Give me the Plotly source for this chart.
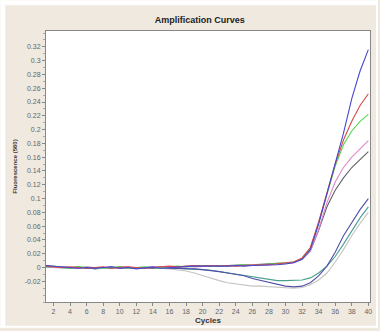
import plotly.graph_objects as go

cycles = list(range(1, 41))

blue = [0.003, 0.002, 0.001, 0.000, -0.001, 0.000, -0.001, 0.000, 0.001, -0.001,
        0.000, -0.002, 0.000, 0.001, -0.001, 0.000, 0.001, 0.001, 0.002, 0.002,
        0.002, 0.001, 0.002, 0.003, 0.002, 0.003, 0.003, 0.004, 0.004, 0.005,
        0.007, 0.012, 0.026, 0.063, 0.106, 0.150, 0.195, 0.245, 0.285, 0.316]
red = [0.002, 0.001, 0.000, 0.001, 0.000, -0.001, 0.000, 0.001, -0.001, 0.000,
       0.001, 0.000, -0.001, 0.000, 0.001, 0.002, 0.001, 0.002, 0.003, 0.002,
       0.003, 0.002, 0.003, 0.002, 0.003, 0.003, 0.004, 0.004, 0.005, 0.006,
       0.008, 0.014, 0.029, 0.066, 0.108, 0.150, 0.185, 0.212, 0.235, 0.252]
green = [0.001, 0.002, 0.000, -0.001, 0.001, 0.000, 0.000, -0.001, 0.000, 0.001,
         -0.001, 0.000, 0.001, 0.000, -0.001, 0.001, 0.002, 0.001, 0.002, 0.003,
         0.002, 0.003, 0.002, 0.003, 0.004, 0.003, 0.004, 0.005, 0.005, 0.006,
         0.008, 0.013, 0.027, 0.064, 0.105, 0.147, 0.178, 0.198, 0.212, 0.222]
pink = [0.002, 0.000, 0.001, 0.000, -0.001, 0.001, 0.000, -0.001, 0.000, 0.000,
        0.001, -0.001, 0.000, 0.001, 0.000, 0.001, 0.000, 0.002, 0.001, 0.002,
        0.002, 0.003, 0.002, 0.003, 0.003, 0.004, 0.003, 0.004, 0.005, 0.005,
        0.007, 0.012, 0.024, 0.055, 0.094, 0.124, 0.145, 0.160, 0.172, 0.184]
dgray = [0.003, 0.001, 0.000, 0.000, 0.001, -0.001, 0.000, 0.000, -0.001, 0.001,
         0.000, 0.000, -0.001, 0.000, 0.001, 0.000, 0.001, 0.002, 0.002, 0.003,
         0.003, 0.002, 0.003, 0.004, 0.004, 0.004, 0.005, 0.005, 0.006, 0.006,
         0.008, 0.012, 0.024, 0.054, 0.088, 0.112, 0.130, 0.145, 0.157, 0.168]
navy = [0.002, 0.001, 0.000, -0.001, 0.000, 0.000, -0.002, 0.000, 0.001, -0.001,
        0.000, -0.001, 0.000, -0.001, 0.000, -0.001, -0.001, -0.001, -0.002, -0.003,
        -0.004, -0.006, -0.008, -0.010, -0.012, -0.016, -0.019, -0.022, -0.025, -0.027,
        -0.028, -0.027, -0.022, -0.012, 0.002, 0.022, 0.046, 0.066, 0.084, 0.100]
teal = [0.001, 0.000, 0.001, 0.000, -0.001, 0.000, 0.000, -0.001, 0.000, 0.000,
        -0.001, 0.000, -0.001, 0.000, -0.001, 0.000, -0.001, -0.002, -0.002, -0.003,
        -0.004, -0.006, -0.008, -0.010, -0.012, -0.014, -0.016, -0.018, -0.019, -0.019,
        -0.019, -0.018, -0.015, -0.008, 0.002, 0.016, 0.034, 0.054, 0.072, 0.088]
lgray = [0.001, 0.000, -0.001, 0.000, 0.000, -0.001, 0.000, 0.000, -0.001, 0.000,
         0.000, -0.001, 0.000, -0.001, -0.001, -0.002, -0.003, -0.005, -0.008, -0.012,
         -0.016, -0.019, -0.022, -0.024, -0.026, -0.027, -0.027, -0.028, -0.029, -0.030,
         -0.030, -0.029, -0.025, -0.018, -0.008, 0.008, 0.026, 0.046, 0.064, 0.080]

series = [
    ("lgray", lgray, "#c4c4c0"),
    ("teal", teal, "#48a090"),
    ("navy", navy, "#5050a8"),
    ("dgray", dgray, "#606068"),
    ("pink", pink, "#e088c8"),
    ("green", green, "#50d850"),
    ("red", red, "#d84848"),
    ("blue", blue, "#4848d0"),
]

y_ticks = [-0.02, 0, 0.02, 0.04, 0.06, 0.08, 0.1, 0.12, 0.14, 0.16, 0.18, 0.2,
           0.22, 0.24, 0.26, 0.28, 0.3, 0.32]
y_labels = ["-0.02", "0", "0.02", "0.04", "0.06", "0.08", "0.1", "0.12", "0.14",
            "0.16", "0.18", "0.2", "0.22", "0.24", "0.26", "0.28", "0.3", "0.32"]
x_ticks = list(range(2, 41, 2))

W, H = 380, 331
L, R, T, B = 46, 8, 31, 26
pw, ph = W - L - R, H - T - B


def px_x(p):
    return (p - L) / pw


def px_y(p):
    return (H - B - p) / ph


fig = go.Figure()
for name, vals, col in series:
    fig.add_trace(go.Scatter(x=cycles, y=vals, mode="lines", name=name,
                             line=dict(color=col, width=1.1), showlegend=False))

# thin white border around the beige panel
white_strips = [(0, 0, W, 5), (0, 0, 5, H), (W - 2, 0, W, H), (0, H - 2, W, H)]
shapes = []
for x0, y0, x1, y1 in white_strips:
    shapes.append(dict(type="rect", xref="paper", yref="paper",
                       x0=px_x(x0), x1=px_x(x1), y0=px_y(y1), y1=px_y(y0),
                       fillcolor="#ffffff", line=dict(width=0), layer="above"))

fig.update_layout(
    width=W, height=H,
    margin=dict(l=L, r=R, t=T, b=B),
    paper_bgcolor="#efe9df",
    plot_bgcolor="#ffffff",
    shapes=shapes,
    title=dict(text="<b>Amplification Curves</b>", x=0.526, xanchor="center",
               y=1 - 20 / H, yanchor="middle",
               font=dict(family="Liberation Sans, Arial", size=9, color="#222")),
    font=dict(family="Liberation Sans, Arial", size=7, color="#666"),
)
fig.update_xaxes(
    range=[1.1, 40.2], tickvals=x_ticks, ticks="outside", ticklen=3,
    tickcolor="#888", showgrid=False, zeroline=False,
    showline=True, linecolor="#888", linewidth=1, mirror=True,
    tickfont=dict(size=7, color="#666"),
    title=dict(text="<b>Cycles</b>", standoff=2,
               font=dict(size=8, color="#333")),
)
fig.update_yaxes(
    range=[-0.05, 0.343], tickvals=y_ticks, ticktext=y_labels,
    ticks="outside", ticklen=3, tickcolor="#888", showgrid=False,
    zeroline=False, showline=True, linecolor="#888", linewidth=1, mirror=True,
    tickfont=dict(size=7, color="#666"),
    minor=dict(ticks="outside", ticklen=2, tickcolor="#aaa", dtick=0.01),
    title=dict(text="<b>Fluorescence (560)</b>", standoff=6,
               font=dict(size=6, color="#333")),
)

fig.write_html("out.html",
               config={"displayModeBar": False},
               post_script="document.body.style.margin='0';"
                           "document.body.style.overflow='hidden';")
